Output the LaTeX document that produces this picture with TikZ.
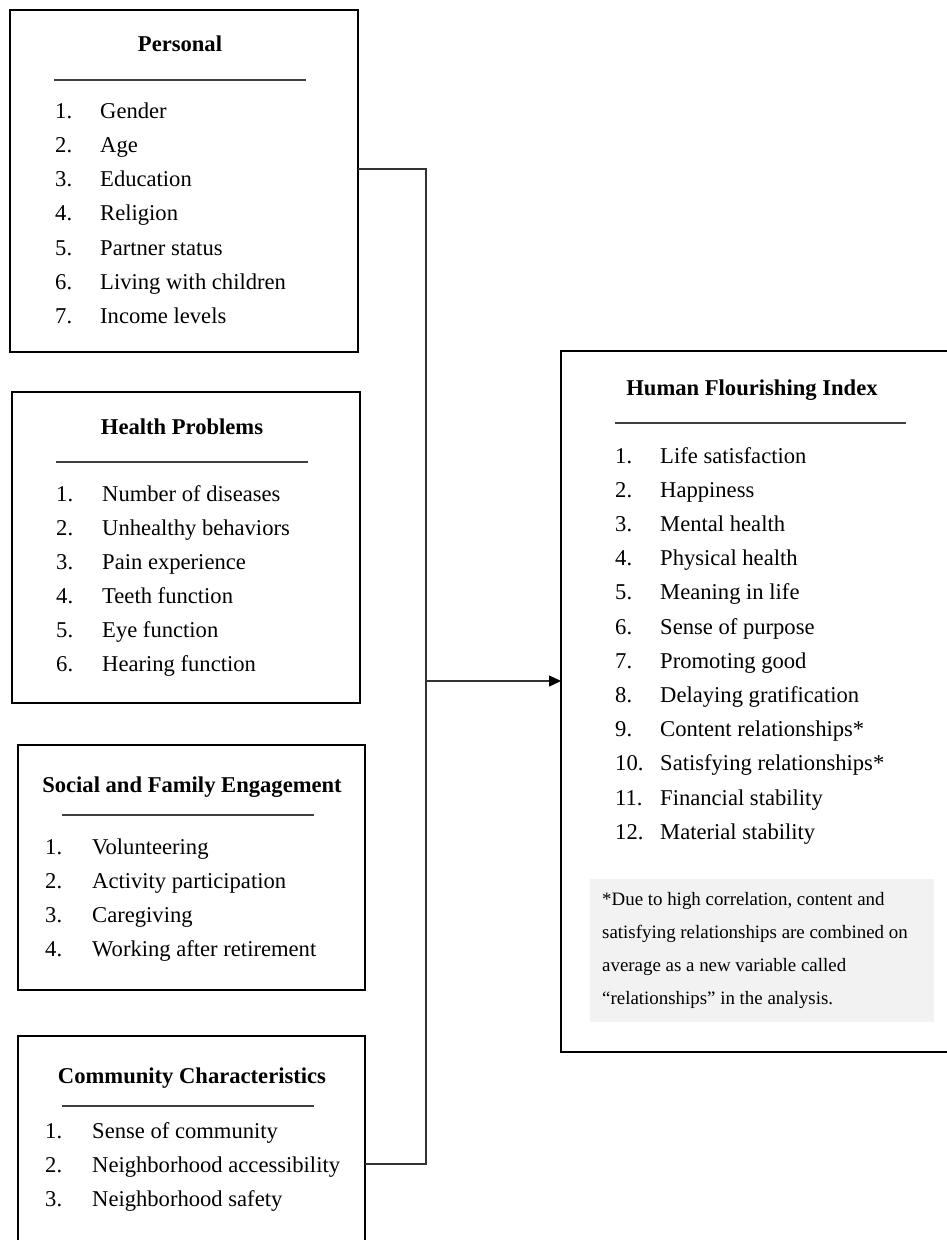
\documentclass[tikz,border=0pt]{standalone}
\usepackage{fontspec}
\setmainfont{Liberation Serif}
\usetikzlibrary{arrows.meta}
\begin{document}
\begin{tikzpicture}[x=1pt,y=-1pt,
  box/.style={draw=black, line width=2pt, anchor=north west, inner sep=0pt, outer sep=0pt},
  ttl/.style={font=\fontsize{22.6}{27}\selectfont\bfseries, anchor=base, inner sep=0pt},
  item/.style={font=\fontsize{22.6}{27}\selectfont, anchor=base west, inner sep=0pt},
  small/.style={font=\fontsize{18.9}{22}\selectfont, anchor=base west, inner sep=0pt},
  rule/.style={draw=black!75, line width=1.3pt},
  conn/.style={draw=black!80, line width=1.3pt},
  notebox/.style={fill=black!5, draw=none, anchor=north west, inner sep=0pt}
]
\useasboundingbox (0,0) rectangle (947,1240);
\clip (0,0) rectangle (947,1240);

% Boxes
\node[box, minimum width=348pt, minimum height=342pt] (personal) at (10,10) {};
\node[box, minimum width=348pt, minimum height=311pt] (health) at (12,392) {};
\node[box, minimum width=347pt, minimum height=245pt] (social) at (18,745) {};
\node[box, minimum width=347pt, minimum height=240pt] (community) at (18,1036) {};
\node[box, minimum width=400pt, minimum height=701pt] (hfi) at (561,351) {};
\node[notebox, minimum width=344pt, minimum height=143pt] (note) at (590,879) {};

% Personal
\node[ttl] (pt) at (180,51) {Personal};
\draw[rule] (54,80) -- (306,80);
\foreach \i/\t in {1/Gender,2/Age,3/Education,4/Religion,5/Partner status,6/Living with children,7/Income levels}{
  \node[item] (pn\i) at (55,{118+34.3*(\i-1)}) {\i.};
  \node[item] (px\i) at (100,{118+34.3*(\i-1)}) {\t};
}

% Health problems
\node[ttl] (ht) at (182,434) {Health Problems};
\draw[rule] (56,462) -- (308,462);
\foreach \i/\t in {1/Number of diseases,2/Unhealthy behaviors,3/Pain experience,4/Teeth function,5/Eye function,6/Hearing function}{
  \node[item] (hn\i) at (56,{501+34*(\i-1)}) {\i.};
  \node[item] (hx\i) at (102,{501+34*(\i-1)}) {\t};
}

% Social and family engagement
\node[ttl] (st) at (192,792) {Social and Family Engagement};
\draw[rule] (62,815) -- (314,815);
\foreach \i/\t in {1/Volunteering,2/Activity participation,3/Caregiving,4/Working after retirement}{
  \node[item] (sn\i) at (45,{854+34*(\i-1)}) {\i.};
  \node[item] (sx\i) at (92,{854+34*(\i-1)}) {\t};
}

% Community characteristics
\node[ttl] (ct) at (192,1083) {Community Characteristics};
\draw[rule] (62,1106) -- (314,1106);
\foreach \i/\t in {1/Sense of community,2/Neighborhood accessibility,3/Neighborhood safety}{
  \node[item] (cn\i) at (45,{1138+34*(\i-1)}) {\i.};
  \node[item] (cx\i) at (92,{1138+34*(\i-1)}) {\t};
}

% Human Flourishing Index
\node[ttl] (ft) at (752,395) {Human Flourishing Index};
\draw[rule] (615,423) -- (906,423);
\foreach \i/\t in {1/Life satisfaction,2/Happiness,3/Mental health,4/Physical health,5/Meaning in life,6/Sense of purpose,7/Promoting good,8/Delaying gratification,9/Content relationships*,10/Satisfying relationships*,11/Financial stability,12/Material stability}{
  \node[item] (fn\i) at (615,{463+34.2*(\i-1)}) {\i.};
  \node[item] (fx\i) at (660,{463+34.2*(\i-1)}) {\t};
}

% Note
\node[small] (n1) at (602,905) {*Due to high correlation, content and};
\node[small] (n2) at (602,938) {satisfying relationships are combined on};
\node[small] (n3) at (602,971) {average as a new variable called};
\node[small] (n4) at (602,1004) {“relationships” in the analysis.};

% Connectors
\coordinate (j1) at (426,169);
\coordinate (j2) at (426,1164);
\coordinate (j3) at (426,681);
\draw[conn] (personal.east |- j1) -- (j1) -- (j2) -- (community.east |- j2);
\draw[conn, -{Triangle[length=12pt,width=11pt,fill=black,color=black]}] (j3) -- (hfi.west |- j3);
\end{tikzpicture}
\end{document}
